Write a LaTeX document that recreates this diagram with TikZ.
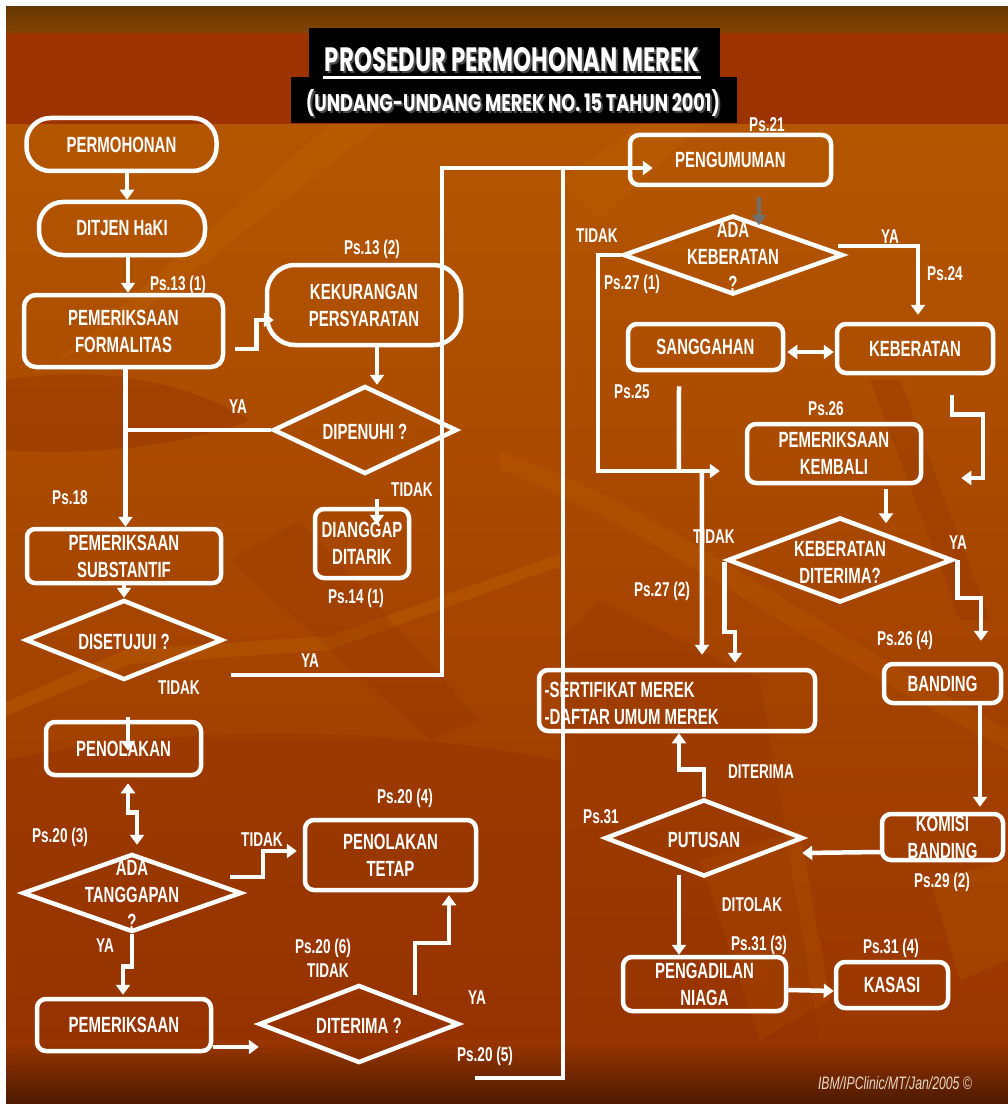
\documentclass[tikz,border=0pt]{standalone}
\usepackage{graphicx}
\usepackage{fontspec}
\setmainfont{Liberation Sans}[FakeStretch=0.68]
\newfontfamily\headfont{Poppins}
\usetikzlibrary{shapes.geometric,arrows.meta,calc}

\definecolor{bandtop}{HTML}{663800}
\definecolor{bandbot}{HTML}{844300}
\definecolor{titleband}{HTML}{9C3300}
\definecolor{bgA}{HTML}{B45600}
\definecolor{bgB}{HTML}{A84800}
\definecolor{bgC}{HTML}{9A3600}
\definecolor{bgD}{HTML}{4E1A00}
\definecolor{lite}{HTML}{C86E00}
\definecolor{deep}{HTML}{8E2C00}
\definecolor{grayarrow}{HTML}{707070}
\definecolor{shadowgray}{HTML}{4A4A4A}
\definecolor{footc}{HTML}{E8D8C8}

\tikzset{
  every node/.style={text=white},
  boxtxt/.style={font=\fontsize{22}{27}\selectfont\bfseries, align=center},
  flowbox/.style={draw=white, line width=4.5pt, rounded corners=9pt, boxtxt, inner sep=0pt},
  pill/.style={flowbox, rounded corners=24pt},
  query/.style={draw=white, line width=4.5pt, diamond, inner sep=0pt},
  tag/.style={font=\fontsize{20}{24}\selectfont\bfseries, inner sep=0pt},
  flow/.style={draw=white, line width=4.5pt},
  arr/.style={flow, -{Triangle[width=14pt,length=10pt]}},
  darr/.style={flow, {Triangle[width=14pt,length=10pt]}-{Triangle[width=14pt,length=10pt]}},
}

\begin{document}
\begin{tikzpicture}[x=1pt,y=-1pt]
\useasboundingbox (0,0) rectangle (1008,1107);
% ---------- slide background ----------
\fill[white] (0,0) rectangle (1008,1107);
\shade[top color=bandtop, bottom color=bandbot] (6,7) rectangle (1008,33);
\fill[titleband] (6,33) rectangle (1008,125);
\shade[top color=bgA, middle color=bgB, bottom color=bgC] (6,125) rectangle (1008,1040);
\shade[top color=bgC, bottom color=bgD] (6,1040) rectangle (1008,1103);
% texture streaks
\begin{scope}
\clip (6,125) rectangle (1008,1103);
\fill[lite, opacity=.28] (6,716) -- (130,664) -- (330,650) -- (560,566) -- (560,554) -- (330,636) -- (125,650) -- (6,702) -- cycle;
\fill[lite, opacity=.18] (500,470) .. controls (640,520) and (760,620) .. (1008,750) -- (1008,730) .. controls (770,600) and (650,500) .. (500,452) -- cycle;
\fill[lite, opacity=.22] (330,125) -- (380,125) -- (120,330) -- (60,360) -- cycle;
\fill[lite, opacity=.18] (700,860) -- (800,830) -- (830,1000) -- (760,1040) -- cycle;
\fill[lite, opacity=.18] (930,880) -- (1008,860) -- (1008,960) -- (960,980) -- cycle;
\fill[lite, opacity=.18] (560,180) -- (640,125) -- (700,125) -- (600,220) -- cycle;
\fill[deep, opacity=.35] (6,380) .. controls (100,365) and (180,380) .. (250,420) .. controls (170,450) and (80,455) .. (6,450) -- cycle;
\fill[deep, opacity=.25] (870,380) -- (900,380) -- (990,620) -- (960,620) -- cycle;
\fill[deep, opacity=.30] (6,760) .. controls (200,720) and (400,730) .. (560,760) -- (560,1040) -- (6,1040) -- cycle;
\fill[deep, opacity=.22] (600,600) -- (760,680) -- (820,1040) -- (560,1040) -- (560,640) -- cycle;
\fill[deep, opacity=.20] (230,560) -- (300,520) -- (480,720) -- (430,740) -- cycle;
\end{scope}

% ---------- title ----------
\fill[black] (309,28) rectangle (720,78);
\fill[black] (291,77) rectangle (737,123);
\node[anchor=base, inner sep=0pt, text=shadowgray] (titleshadow) at (514,74)
  {\resizebox{374pt}{24pt}{\headfont\bfseries PROSEDUR PERMOHONAN MEREK}};
\node[anchor=base, inner sep=0pt] (title) at (512,72)
  {\resizebox{374pt}{24pt}{\headfont\bfseries PROSEDUR PERMOHONAN MEREK}};
\draw[white, line width=3pt] (323,77.5) -- (701,77.5);
\node[anchor=base, inner sep=0pt, text=shadowgray] (subtitleshadow) at (515,114)
  {\resizebox{414pt}{22pt}{\headfont\bfseries (UNDANG-UNDANG MEREK NO. 15 TAHUN 2001)}};
\node[anchor=base, inner sep=0pt] (subtitle) at (513,112)
  {\resizebox{414pt}{22pt}{\headfont\bfseries (UNDANG-UNDANG MEREK NO. 15 TAHUN 2001)}};

% ---------- left column ----------
\node[pill, minimum width=190pt, minimum height=53pt] (perm) at (121.5,144.5) {PERMOHONAN};
\node[pill, minimum width=166pt, minimum height=53pt] (ditjen) at (122,228.5) {DITJEN HaKI};
\node[flowbox, rounded corners=12pt, minimum width=199pt, minimum height=72pt] (formal) at (123.5,331) {PEMERIKSAAN\\FORMALITAS};
\node[pill, rounded corners=28pt, minimum width=194pt, minimum height=80pt] (kekur) at (364,305) {KEKURANGAN\\PERSYARATAN};
\node[query, minimum width=184pt, minimum height=88pt] (dipenuhi) at (365,430) {};
\node[boxtxt] (dipenuhiT) at (365,432) {DIPENUHI ?};
\node[flowbox, minimum width=94pt, minimum height=69pt] (dianggap) at (362,543.5) {DIANGGAP\\DITARIK};
\node[flowbox, rounded corners=8pt, minimum width=194pt, minimum height=54pt] (subst) at (124,556) {PEMERIKSAAN\\SUBSTANTIF};
\node[query, minimum width=197pt, minimum height=80pt] (disetujui) at (124,640) {};
\node[boxtxt] (disetujuiT) at (124,642) {DISETUJUI ?};
\node[flowbox, minimum width=155pt, minimum height=53pt] (penol) at (123.5,748.5) {PENOLAKAN};
\node[query, minimum width=219pt, minimum height=78pt] (adatang) at (132,893) {};
\node[boxtxt] (adatangT) at (132,895) {ADA\\TANGGAPAN\\?};
\node[flowbox, minimum width=171pt, minimum height=70pt] (penoltetap) at (390.5,855) {PENOLAKAN\\TETAP};
\node[flowbox, minimum width=174pt, minimum height=52pt] (pemer) at (124,1025) {PEMERIKSAAN};
\node[query, minimum width=200pt, minimum height=78pt] (diterima) at (359,1024) {};
\node[boxtxt] (diterimaT) at (359,1026) {DITERIMA ?};

% ---------- right column ----------
\node[flowbox, minimum width=201pt, minimum height=50pt] (pengum) at (730.5,160) {PENGUMUMAN};
\node[query, minimum width=220pt, minimum height=79pt] (adakeb) at (733,255) {};
\node[boxtxt] (adakebT) at (733,257) {ADA\\KEBERATAN\\?};
\node[flowbox, minimum width=155pt, minimum height=46pt] (sangg) at (705.5,347) {SANGGAHAN};
\node[flowbox, minimum width=156pt, minimum height=49pt] (keber) at (915,348.5) {KEBERATAN};
\node[flowbox, minimum width=174pt, minimum height=59pt] (kembali) at (834,453.5) {PEMERIKSAAN\\KEMBALI};
\node[query, minimum width=225pt, minimum height=85pt] (kebditer) at (840,560) {};
\node[boxtxt] (kebditerT) at (840,562) {KEBERATAN\\DITERIMA?};
\node[flowbox, minimum width=117pt, minimum height=39pt] (banding) at (942.5,683.5) {BANDING};
\node[flowbox, minimum width=276pt, minimum height=61pt] (sertif) at (677,700.5) {};
\node[boxtxt, align=left, anchor=west] (sertifT) at (541,703) {-SERTIFIKAT MEREK\\-DAFTAR UMUM MEREK};
\node[flowbox, minimum width=121pt, minimum height=46pt] (komisi) at (942.5,837) {KOMISI\\BANDING};
\node[query, minimum width=198pt, minimum height=77pt] (putusan) at (704,838) {};
\node[boxtxt] (putusanT) at (704,840) {PUTUSAN};
\node[flowbox, minimum width=163pt, minimum height=54pt] (pengad) at (704.5,984) {PENGADILAN\\NIAGA};
\node[flowbox, minimum width=112pt, minimum height=46pt] (kasasi) at (892,985) {KASASI};

% ---------- labels ----------
\node[tag] (l01) at (178,285) {Ps.13 (1)};
\node[tag] (l02) at (372,249) {Ps.13 (2)};
\node[tag] (l03) at (238,407) {YA};
\node[tag] (l04) at (70,498) {Ps.18};
\node[tag] (l05) at (412,490) {TIDAK};
\node[tag] (l06) at (356,598) {Ps.14 (1)};
\node[tag] (l07) at (310,661) {YA};
\node[tag] (l08) at (179,688) {TIDAK};
\node[tag] (l09) at (60,837) {Ps.20 (3)};
\node[tag] (l10) at (262,840) {TIDAK};
\node[tag] (l11) at (405,798) {Ps.20 (4)};
\node[tag] (l12) at (105,946) {YA};
\node[tag] (l13) at (323,948) {Ps.20 (6)};
\node[tag] (l14) at (328,971) {TIDAK};
\node[tag] (l15) at (477,998) {YA};
\node[tag] (l16) at (485,1056) {Ps.20 (5)};
\node[tag] (l17) at (767,125) {Ps.21};
\node[tag] (l18) at (597,236) {TIDAK};
\node[tag] (l19) at (632,284) {Ps.27 (1)};
\node[tag] (l20) at (890,237) {YA};
\node[tag] (l21) at (945,274) {Ps.24};
\node[tag] (l22) at (632,392) {Ps.25};
\node[tag] (l23) at (826,409) {Ps.26};
\node[tag] (l24) at (714,537) {TIDAK};
\node[tag] (l25) at (958,543) {YA};
\node[tag] (l26) at (662,591) {Ps.27 (2)};
\node[tag] (l27) at (905,640) {Ps.26 (4)};
\node[tag] (l28) at (761,772) {DITERIMA};
\node[tag] (l29) at (601,817) {Ps.31};
\node[tag] (l30) at (942,882) {Ps.29 (2)};
\node[tag] (l31) at (752,905) {DITOLAK};
\node[tag] (l32) at (759,945) {Ps.31 (3)};
\node[tag] (l33) at (891,948) {Ps.31 (4)};
\node[font=\fontsize{18}{21}\selectfont\itshape, text=footc, inner sep=0pt] (foot) at (895,1083) {IBM/IPClinic/MT/Jan/2005 ©};

% ---------- connectors, left ----------
\draw[arr] ($(perm.south)+(5.5,0)$) -- ($(ditjen.north)+(5,0)$);
\draw[arr] ($(ditjen.south)+(6,0)$) -- ($(formal.north)+(4.5,0)$);
\draw[arr] ($(formal.east)+(10,18)$) -- ++(21,0) |- ($(kekur.west)+(9,15)$);
\draw[arr] ($(kekur.south)+(13,0)$) -- ($(dipenuhi.north)+(12,1)$);
\coordinate (trunk) at ($(formal.south)+(2,0)$);
\draw[flow] (dipenuhi.west) -- (trunk |- dipenuhi.west);
\draw[arr] (trunk) -- (trunk |- subst.north);
\draw[arr] ($(dipenuhi.south)+(12,23)$) -- ($(dianggap.north)+(15,18)$);
\draw[arr] (subst.south) -- (disetujui.north);
\draw[arr] ($(disetujui.east)+(6,35)$) -- ++(211,0) |- ($(pengum.west)+(25,8)$);
\draw[flow] ($(diterima.east)+(13.5,54)$) -| ($(pengum.west)+(-65,8)$);
\draw[arr] ($(disetujui.south)+(4,35)$) -- ($(penol.north)+(4.5,31)$);
\draw[darr] ($(penol.south)+(4.5,6)$) -- ++(0,29) -| ($(adatang.north)+(5,-7)$);
\draw[arr] ($(adatang.east)+(-14,-16)$) -- ++(33,0) |- ($(penoltetap.west)+(-6,-4)$);
\draw[arr] (adatang.south) -- ++(0,32) -| ($(pemer.north)+(-1,-2)$);
\draw[arr] ($(pemer.east)+(0,22)$) -- ($(diterima.west)+(2,23)$);
\draw[arr] ($(diterima.north)+(56,12)$) -- ++(0,-52) -| ($(penoltetap.south)+(58.5,3)$);

% ---------- connectors, right ----------
\draw[arr, draw=grayarrow] ($(pengum.south)+(28.5,10)$) -- ($(adakeb.north)+(26,12)$);
\draw[arr] (adakeb.west) -- ++(-23,0) |- ($(kembali.west)+(-25,17.5)$);
\draw[flow] ($(sangg.south)+(-26.5,14)$) -- ($(kembali.west)+(-66,17.5)$);
\draw[arr] ($(kembali.west)+(-43,17.5)$) -- ($(sertif.north)+(25,-13)$);
\draw[arr] ($(adakeb.east)+(-7,-9)$) -| ($(keber.north)+(3,-7)$);
\draw[darr] ($(sangg.east)+(2,5)$) -- ($(keber.west)+(-1,3.5)$);
\draw[arr] ($(keber.south)+(37,20)$) -- ++(0,19) -- ++(31,0) |- ($(kembali.east)+(38,24.5)$);
\draw[arr] ($(kembali.south)+(52,4)$) -- ($(kebditer.north)+(46,8)$);
\draw[arr] ($(kebditer.west)+(-1,2)$) -- ++(0,70) -| ($(sertif.north)+(58,-5)$);
\draw[arr] ($(kebditer.east)+(2.5,0)$) -- ++(0,38) -| ($(banding.north)+(38.5,-21)$);
\draw[arr] ($(banding.south)+(37.5,0)$) -- ($(komisi.north)+(37.5,-5)$);
\draw[arr] ($(komisi.west)+(0,15)$) -- ($(putusan.east)+(-3,15)$);
\draw[arr] (putusan.north) -- ++(0,-28) -| ($(sertif.south)+(2,0)$);
\draw[arr] ($(putusan.south)+(-25,-4)$) -- ($(pengad.north)+(-25.5,0)$);
\draw[arr] ($(pengad.east)+(0,6)$) -- ($(kasasi.west)+(0,6)$);
\end{tikzpicture}
\end{document}
